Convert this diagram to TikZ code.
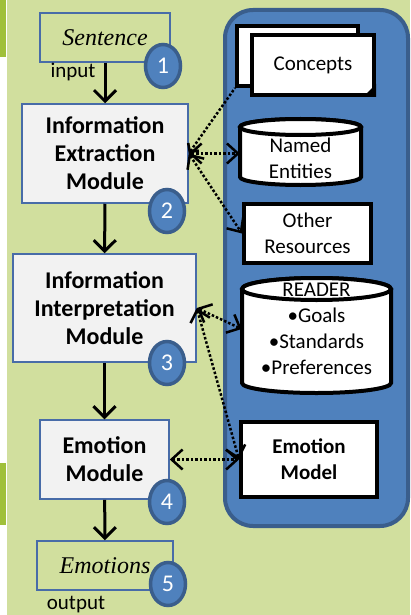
\documentclass[tikz,border=0pt]{standalone}
\usepackage{fontspec}
\setmainfont{Carlito}
\newfontfamily\capfont{Liberation Serif}
\usetikzlibrary {arrows.meta}
\usetikzlibrary {calc}
\usetikzlibrary {shapes.geometric}

\definecolor{bggreen}{RGB}{209,223,158}
\definecolor{bargreen}{RGB}{160,192,58}
\definecolor{boxblue}{RGB}{72,108,168}
\definecolor{modgrey}{RGB}{242,242,242}
\definecolor{panelblue}{RGB}{79,129,189}
\definecolor{paneledge}{RGB}{58,94,140}

\begin{document}
\begin{tikzpicture}[x=1pt, y=1pt, >=Straight Barb,
        module/.style={draw=boxblue, line width=1.5pt, fill=modgrey, align=center,
            inner sep=0pt, font=\fontsize{24}{28}\selectfont\bfseries},
        io/.style={draw=boxblue, line width=1.5pt, inner sep=0pt,
            font=\fontsize{24}{28}\selectfont\capfont\itshape},
        badge/.style={ellipse, draw=paneledge, line width=3.5pt, fill=panelblue,
            text=white, minimum width=35pt, minimum height=43pt, inner sep=0pt,
            font=\fontsize{24}{28}\selectfont},
        res/.style={draw=black, line width=4pt, fill=white, align=center,
            inner sep=0pt, font=\fontsize{21}{26}\selectfont},
        restext/.style={align=center, inner sep=0pt, font=\fontsize{21}{26}\selectfont},
        cyl/.style={draw=black, line width=4pt, fill=white},
        flow/.style={-{Straight Barb[length=11pt, width=22pt]}, line width=3pt},
        link/.style={{Straight Barb[length=11pt, width=20pt]}-{Straight Barb[length=11pt, width=20pt]},
            line width=2.5pt, dash pattern=on 2.5pt off 2pt},
        lbl/.style={inner sep=0pt, font=\fontsize{21}{25}\selectfont}]
    \useasboundingbox (0,0) rectangle (410,-615);

    % background
    \fill[bggreen] (7,0) rectangle (410,-615);
    \fill[bargreen] (0,0) rectangle (6,-57);
    \fill[bargreen] (0,-463) rectangle (6,-525);
    \draw[paneledge, fill=panelblue, line width=4pt, rounded corners=28pt]
        (225,-10) rectangle (408,-526);

    % pipeline
    \node[io, minimum width=130, minimum height=49] (sent) at (105,-37.5) {Sentence};
    \node[lbl] (inlbl) at (73,-72) {input};
    \node[module, minimum width=166, minimum height=99] (iem) at (105,-153.5)
        {Information\\Extraction\\Module};
    \node[module, minimum width=183, minimum height=108] (iim) at (104.5,-308)
        {Information\\Interpretation\\Module};
    \node[module, minimum width=129, minimum height=79] (emm) at (104.5,-459.5)
        {Emotion\\Module};
    \node[io, minimum width=136, minimum height=49] (emo) at (105,-565.5) {Emotions};
    \node[lbl] (outlbl) at (76,-605) {output};

    \draw[flow] (sent) -- (iem);
    \draw[flow] (iem) -- (iim);
    \draw[flow] (iim) -- (emm);
    \draw[flow] (emm) -- (emo);

    \node[badge] (b1) at (163,-66) {1};
    \node[badge] (b2) at (167,-211) {2};
    \node[badge] (b3) at (167,-363) {3};
    \node[badge] (b4) at (167,-502) {4};
    \node[badge] (b5) at (168,-584) {5};

    % resources
    \node[res, minimum width=121, minimum height=60] (cback) at (297.5,-56) {};
    \node[res, minimum width=122, minimum height=60] (cfront) at (313,-65) {Concepts};
    \fill[black] (cfront.south east) -- ++(-13,0) -- ++(13,13) -- cycle;

    \draw[cyl] (240,-127) -- (240,-177) arc[start angle=180, end angle=360, x radius=60.5, y radius=8]
        -- (361,-127) arc[start angle=0, end angle=180, x radius=60.5, y radius=8] -- cycle;
    \draw[cyl] (300.5,-127) ellipse[x radius=60.5, y radius=8];
    \node[restext, minimum width=121, minimum height=50] (ne) at (300.5,-158) {Named\\Entities};

    \node[res, minimum width=127, minimum height=59] (ores) at (307.5,-233.5) {Other\\Resources};

    \draw[cyl] (242,-289) -- (242,-383) arc[start angle=180, end angle=360, x radius=74.5, y radius=10]
        -- (391,-289) arc[start angle=0, end angle=180, x radius=74.5, y radius=11] -- cycle;
    \draw[cyl] (316.5,-289) ellipse[x radius=74.5, y radius=11];
    \node[restext, minimum width=149, minimum height=100] (rdr) at (316.5,-329)
        {READER\\\textbullet Goals\\\textbullet Standards\\\textbullet Preferences};

    \node[res, minimum width=136, minimum height=75, font=\fontsize{21}{26}\selectfont\bfseries]
        (emodel) at (309,-459.5) {Emotion\\Model};

    % links
    \draw[link, <-] (iem.east) -- (cback.south west);
    \draw[link] (iem.east) -- (iem.east -| ne.west);
    \draw[link] (iem.east) -- (ores.west);
    \draw[link] (iim.east) -- (rdr.west);
    \draw[link] (iim.east) -- (emodel.west);
    \draw[link] (emm.east) -- (emodel.west);
\end{tikzpicture}
\end{document}
